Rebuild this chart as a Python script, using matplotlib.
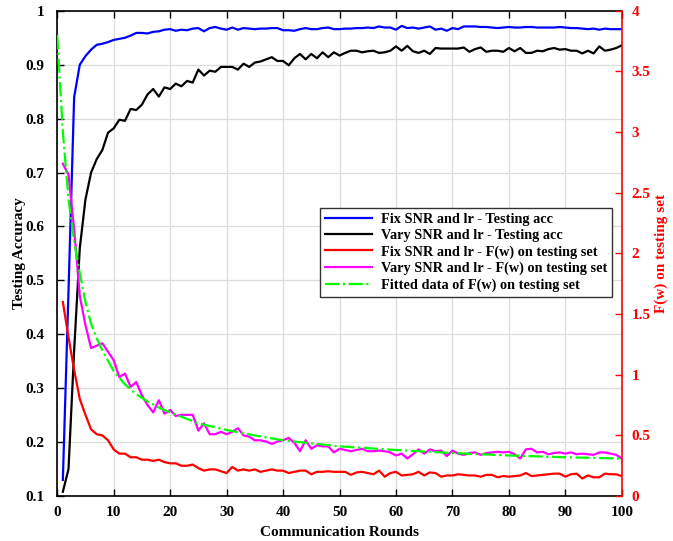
import numpy as np
import matplotlib.pyplot as plt

plt.rcParams['font.family'] = 'Liberation Serif'
plt.rcParams['font.weight'] = 'bold'

rounds = np.arange(1, 101)

# testing accuracy, fixed SNR and lr
acc_fix = [0.13, 0.48, 0.84, 0.90, 0.916, 0.928, 0.937, 0.939, 0.942, 0.946,
           0.948, 0.950, 0.954, 0.959, 0.959, 0.958, 0.961, 0.962, 0.965, 0.966,
           0.963, 0.965, 0.964, 0.967, 0.968, 0.962, 0.968, 0.970, 0.967, 0.965,
           0.969, 0.965, 0.968, 0.967, 0.966, 0.967, 0.967, 0.968, 0.968, 0.964,
           0.964, 0.963, 0.966, 0.968, 0.966, 0.966, 0.968, 0.969, 0.966, 0.966,
           0.967, 0.967, 0.968, 0.968, 0.969, 0.968, 0.971, 0.969, 0.969, 0.965,
           0.972, 0.968, 0.969, 0.967, 0.969, 0.971, 0.965, 0.967, 0.963, 0.968,
           0.966, 0.971, 0.971, 0.971, 0.970, 0.970, 0.969, 0.968, 0.969, 0.970,
           0.969, 0.969, 0.970, 0.970, 0.969, 0.969, 0.969, 0.969, 0.970, 0.969,
           0.968, 0.968, 0.967, 0.966, 0.967, 0.965, 0.967, 0.966, 0.966, 0.966]

# testing accuracy, varying SNR and lr
acc_vary = [0.108, 0.15, 0.37, 0.56, 0.65, 0.70, 0.725, 0.742, 0.774, 0.782,
            0.798, 0.796, 0.818, 0.816, 0.826, 0.845, 0.855, 0.841, 0.858, 0.855,
            0.865, 0.860, 0.870, 0.867, 0.891, 0.880, 0.889, 0.887, 0.896, 0.896,
            0.896, 0.891, 0.902, 0.896, 0.904, 0.906, 0.910, 0.914, 0.907, 0.907,
            0.899, 0.912, 0.920, 0.910, 0.920, 0.912, 0.923, 0.914, 0.923, 0.917,
            0.922, 0.926, 0.926, 0.923, 0.925, 0.926, 0.922, 0.923, 0.926, 0.934,
            0.926, 0.935, 0.925, 0.922, 0.926, 0.920, 0.931, 0.930, 0.930, 0.930,
            0.930, 0.932, 0.924, 0.929, 0.932, 0.924, 0.926, 0.926, 0.924, 0.931,
            0.925, 0.931, 0.922, 0.922, 0.926, 0.925, 0.929, 0.931, 0.928, 0.929,
            0.926, 0.926, 0.921, 0.926, 0.921, 0.934, 0.926, 0.928, 0.931, 0.936]

# F(w) on testing set, fixed SNR and lr
loss_fix = [1.60, 1.31, 1.04, 0.80, 0.67, 0.55, 0.51, 0.50, 0.46, 0.385,
            0.35, 0.35, 0.32, 0.32, 0.30, 0.30, 0.29, 0.30, 0.28, 0.27,
            0.27, 0.25, 0.25, 0.26, 0.23, 0.21, 0.22, 0.22, 0.205, 0.19,
            0.24, 0.21, 0.22, 0.21, 0.22, 0.20, 0.21, 0.22, 0.21, 0.21,
            0.19, 0.20, 0.21, 0.21, 0.18, 0.20, 0.20, 0.205, 0.20, 0.20,
            0.20, 0.175, 0.195, 0.20, 0.19, 0.18, 0.21, 0.16, 0.19, 0.20,
            0.17, 0.175, 0.18, 0.20, 0.17, 0.195, 0.19, 0.16, 0.17, 0.17,
            0.18, 0.175, 0.17, 0.17, 0.16, 0.175, 0.175, 0.155, 0.165, 0.16,
            0.165, 0.17, 0.19, 0.165, 0.17, 0.175, 0.18, 0.185, 0.185, 0.16,
            0.18, 0.185, 0.145, 0.17, 0.155, 0.155, 0.185, 0.18, 0.18, 0.165]

# F(w) on testing set, varying SNR and lr
loss_vary = [2.74, 2.65, 2.20, 1.65, 1.41, 1.22, 1.24, 1.26, 1.19, 1.12,
             0.98, 1.01, 0.90, 0.94, 0.83, 0.75, 0.69, 0.79, 0.68, 0.71,
             0.66, 0.67, 0.67, 0.67, 0.54, 0.60, 0.51, 0.51, 0.53, 0.51,
             0.53, 0.56, 0.50, 0.49, 0.46, 0.46, 0.45, 0.43, 0.45, 0.46,
             0.48, 0.44, 0.37, 0.46, 0.39, 0.42, 0.41, 0.41, 0.36, 0.39,
             0.38, 0.37, 0.38, 0.39, 0.37, 0.37, 0.375, 0.37, 0.36, 0.335,
             0.35, 0.31, 0.345, 0.385, 0.35, 0.385, 0.37, 0.375, 0.33, 0.375,
             0.35, 0.34, 0.355, 0.36, 0.34, 0.355, 0.36, 0.365, 0.36, 0.365,
             0.345, 0.31, 0.385, 0.39, 0.36, 0.365, 0.345, 0.355, 0.36, 0.35,
             0.36, 0.345, 0.35, 0.345, 0.34, 0.36, 0.36, 0.35, 0.34, 0.31]

# fitted curve, read at a few rounds
fit_x = [0, 1, 2, 3, 4, 5, 6, 7, 8, 10, 12, 14, 16, 18, 20, 25, 30, 35, 40,
         50, 60, 70, 80, 90, 100]
fit_y = [3.80, 3.00, 2.45, 2.10, 1.84, 1.60, 1.42, 1.30, 1.20, 1.03, 0.92, 0.84,
         0.78, 0.73, 0.69, 0.60, 0.545, 0.50, 0.46, 0.41, 0.38, 0.355, 0.335,
         0.32, 0.31]

fig = plt.figure(figsize=(6.73, 5.41), dpi=100)
ax = fig.add_axes([0.085, 0.083, 0.839, 0.897])
ax2 = ax.twinx()

l1, = ax.plot(rounds, acc_fix, color='blue', lw=1.6)
l2, = ax.plot(rounds, acc_vary, color='black', lw=1.6)
l3, = ax2.plot(rounds, loss_fix, color='red', lw=1.6)
l4, = ax2.plot(rounds, loss_vary, color='magenta', lw=1.6)
l5, = ax2.plot(fit_x, fit_y, color='#00ff00', lw=1.6, linestyle='-.')

ax.set_xlim(0, 100)
ax.set_ylim(0.1, 1)
ax2.set_ylim(0, 4)
ax.set_xticks(range(0, 101, 10))
ax.set_yticks(np.arange(0.1, 1.01, 0.1))
ax.set_yticklabels(['0.1', '0.2', '0.3', '0.4', '0.5', '0.6', '0.7', '0.8', '0.9', '1'])
ax2.set_yticks(np.arange(0, 4.01, 0.5))
ax2.set_yticklabels(['0', '0.5', '1', '1.5', '2', '2.5', '3', '3.5', '4'])

ax.grid(True, color='#dcdcdc', lw=0.9)
ax.set_axisbelow(True)
ax.tick_params(direction='in', top=True, right=False, labelsize=11, width=1, length=5)
ax.tick_params(axis='y', pad=9)
ax.tick_params(axis='x', pad=7)
ax2.tick_params(direction='in', colors='red', labelsize=11, width=1, length=5, pad=7)
ax.spines['right'].set_visible(False)
ax2.spines['right'].set_color('red')
ax2.spines['right'].set_linewidth(1.2)
for s in ['left', 'top', 'bottom']:
    ax.spines[s].set_linewidth(1.2)
    ax2.spines[s].set_visible(False)

ax.set_xlabel('Communication Rounds', fontsize=11, fontweight='bold', labelpad=5)
ax.set_ylabel('Testing Accuracy', fontsize=11, fontweight='bold', labelpad=0)
ax2.set_ylabel('F(w) on testing set', fontsize=11, fontweight='bold', color='red', labelpad=3)

leg = ax2.legend([l1, l2, l3, l4, l5],
                 ['Fix SNR and lr - Testing acc', 'Vary SNR and lr - Testing acc',
                  'Fix SNR and lr - F(w) on testing set',
                  'Vary SNR and lr - F(w) on testing set',
                  'Fitted data of F(w) on testing set'],
                 loc='upper left', bbox_to_anchor=(0.465, 0.594), borderaxespad=0,
                 fancybox=False, framealpha=1, edgecolor='#333333',
                 prop={'size': 10.3, 'weight': 'bold'}, handlelength=3.3,
                 labelspacing=0.22, borderpad=0.35, handletextpad=0.6)
leg.get_frame().set_linewidth(1.0)

fig.savefig('out.png', dpi=100)
